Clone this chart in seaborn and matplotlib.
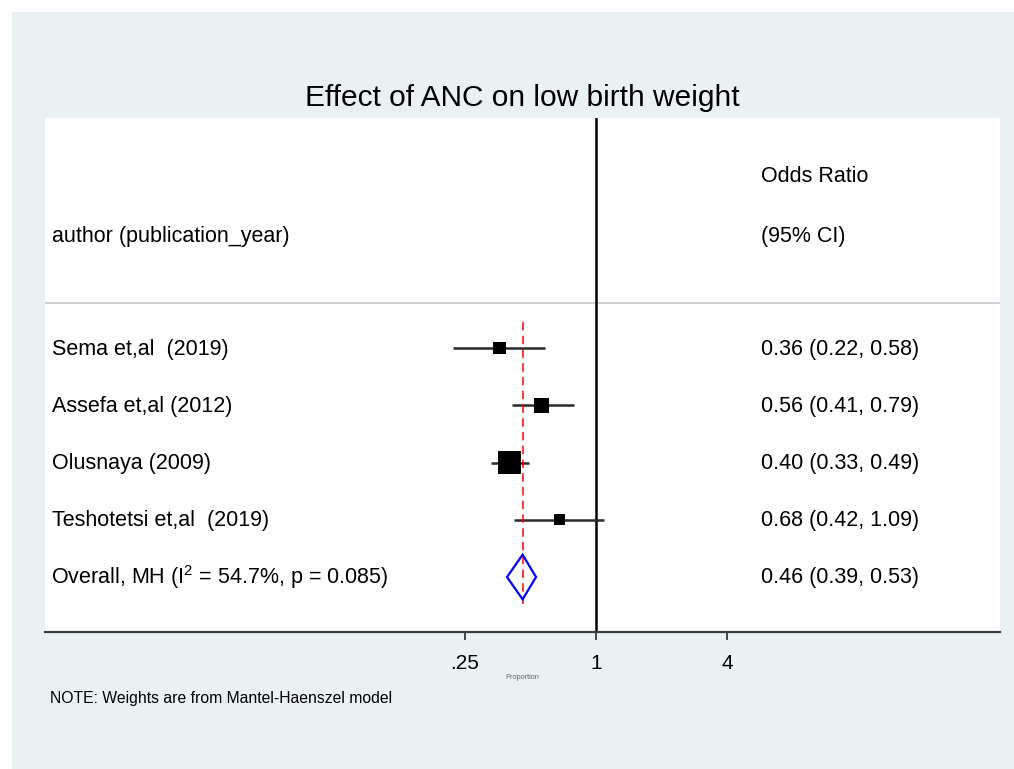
import numpy as np
import pandas as pd
import matplotlib
matplotlib.use("Agg")
import matplotlib.pyplot as plt
from matplotlib.patches import Rectangle
import matplotlib.transforms as mtransforms
import seaborn as sns

# ---------------- data ----------------
studies = ["Sema et,al  (2019)", "Assefa et,al (2012)", "Olusnaya (2009)",
           "Teshotetsi et,al  (2019)"]
odds_ratio = [0.36, 0.56, 0.40, 0.68]
ci_low = [0.22, 0.41, 0.33, 0.42]
ci_high = [0.58, 0.79, 0.49, 1.09]
weights = [14.1, 21.8, 52.2, 11.9]
or_labels = ["0.36 (0.22, 0.58)", "0.56 (0.41, 0.79)", "0.40 (0.33, 0.49)",
             "0.68 (0.42, 1.09)"]
overall_label = "Overall, MH (I$^{2}$ = 54.7%, p = 0.085)"
overall_or = 0.46
overall_low = 0.39
overall_high = 0.53
overall_text = "0.46 (0.39, 0.53)"
xticks = [0.25, 1, 4]
xtick_labels = [".25", "1", "4"]
title = "Effect of ANC on low birth weight"
col_left_header = "author (publication_year)"
col_right_header = ["Odds Ratio", "(95% CI)"]
note = "NOTE: Weights are from Mantel-Haenszel model"

# ---------------- style ----------------
sns.set_style("white")
plt.rcParams["font.family"] = ["Liberation Sans", "DejaVu Sans"]
plt.rcParams["mathtext.fontset"] = "custom"
plt.rcParams["mathtext.rm"] = "Liberation Sans"
plt.rcParams["mathtext.it"] = "Liberation Sans:italic"
plt.rcParams["text.color"] = "black"
plt.rcParams["xtick.color"] = "black"
plt.rcParams["axes.labelcolor"] = "black"

W, H = 1014, 769
fig = plt.figure(figsize=(W / 100, H / 100), dpi=100, facecolor="white")
bg = Rectangle((12 / W, 0), 1 - 12 / W, 1 - 12 / H,
               transform=fig.transFigure, facecolor="#e9f1f3",
               edgecolor="none", zorder=-10)
fig.patches.append(bg)

ax = fig.add_axes([45 / W, 1 - 632 / H, (1000 - 45) / W, (632 - 118) / H])
ax.set_zorder(1)
ax.set_facecolor("white")
ax.set_xscale("log")

df = pd.DataFrame({"study": studies, "or": odds_ratio, "lo": ci_low,
                   "hi": ci_high, "w": weights})
df["row"] = np.arange(len(df))
overall_row = len(df)

# confidence intervals
ax.hlines(df["row"], df["lo"], df["hi"], color="#2a2a2a", lw=1.8, zorder=3)

# weighted squares
k = 5.56
sns.scatterplot(data=df, x="or", y="row", size="w",
                sizes=(k * min(weights), k * max(weights)),
                marker="s", color="black", linewidth=0, legend=False,
                ax=ax, zorder=4)

# overall diamond
h = 0.39
ax.fill([overall_low, overall_or, overall_high, overall_or],
        [overall_row, overall_row - h, overall_row, overall_row + h],
        facecolor="none", edgecolor="#0000ff", lw=1.6, zorder=5)

# reference lines
ax.axvline(1, color="black", lw=1.8, zorder=2)
ax.plot([overall_or, overall_or], [-0.45, overall_row + 0.47], color="red",
        lw=1.1, ls=(0, (5.5, 3.5)), zorder=3)
ax.axhline(-0.79, color="#c8c8c8", lw=1.2, zorder=1)

# limits
xmin = 4 ** (-551 / 131)
xmax = 4 ** (404 / 131)
ax.set_xlim(xmin, xmax)
ax.set_ylim(4.96, -4.017)

# axes styling
for s in ["top", "left", "right"]:
    ax.spines[s].set_visible(False)
ax.spines["bottom"].set_color("#3a3a3a")
ax.spines["bottom"].set_linewidth(1.6)
ax.set_xticks(xticks)
ax.set_xticklabels(xtick_labels, fontsize=15)
ax.xaxis.set_minor_locator(matplotlib.ticker.NullLocator())
ax.tick_params(axis="x", direction="out", length=6, width=1.3,
               color="#3a3a3a", labelcolor="black", pad=9.5, bottom=True)
ax.set_yticks([])
ax.set_ylabel("")
ax.set_xlabel("Proportion", fontsize=5.3, color="#666666", labelpad=1)

# text columns
trans = mtransforms.blended_transform_factory(ax.transAxes, ax.transData)
xl = (52 - 45) / 955
xr = (761 - 45) / 955
fs = 15.5
ax.text(xl, -1.94, col_left_header, transform=trans, fontsize=fs,
        va="center", ha="left")
ax.text(xr, -3.0, col_right_header[0], transform=trans, fontsize=fs,
        va="center", ha="left")
ax.text(xr, -1.94, col_right_header[1], transform=trans, fontsize=fs,
        va="center", ha="left")
for r, (name, lab) in enumerate(zip(studies, or_labels)):
    ax.text(xl, r + 0.02, name, transform=trans, fontsize=fs, va="center",
            ha="left")
    ax.text(xr, r + 0.02, lab, transform=trans, fontsize=fs, va="center",
            ha="left")
ax.text(xl - 0.001, overall_row, overall_label, transform=trans, fontsize=fs,
        va="center", ha="left")
ax.text(xr, overall_row, overall_text, transform=trans, fontsize=fs,
        va="center", ha="left")

# title and note
fig.text(522.5 / W, 1 - 98 / H, title, fontsize=21.5, ha="center",
         va="center")
fig.text(50 / W, 1 - 698 / H, note, fontsize=11.3, ha="left", va="center")

fig.savefig("out.png", dpi=100, facecolor=fig.get_facecolor())
